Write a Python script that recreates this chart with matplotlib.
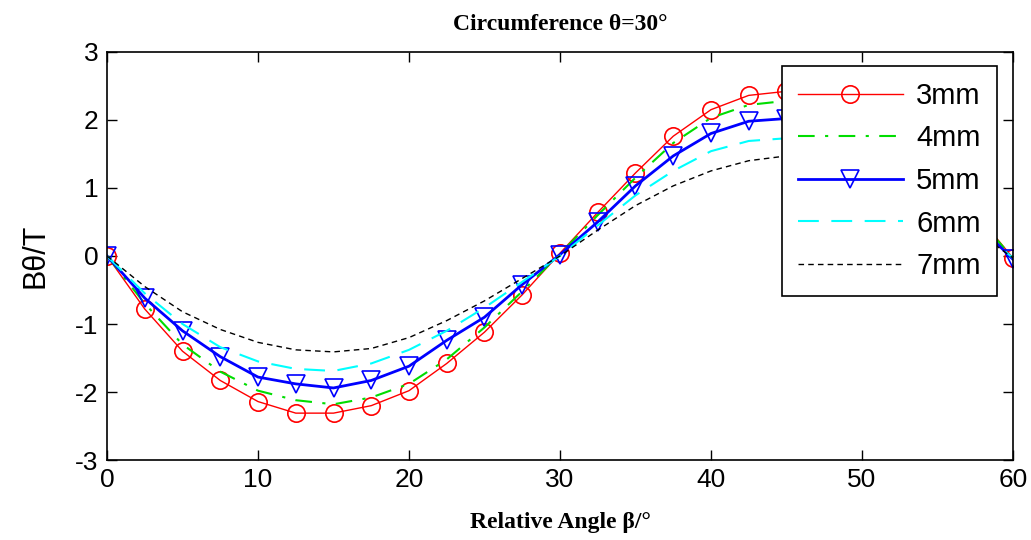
import matplotlib
matplotlib.use("Agg")
import matplotlib.pyplot as plt

# 相对角度 (每 2.5° 一个采样点)
angle = [0, 2.5, 5, 7.5, 10, 12.5, 15, 17.5, 20, 22.5, 25, 27.5, 30,
         32.5, 35, 37.5, 40, 42.5, 45, 47.5, 50, 52.5, 55, 57.5, 60]

b_3mm = [0, -0.78, -1.40, -1.83, -2.14, -2.31, -2.31, -2.20, -1.98, -1.58, -1.12, -0.57, 0.04,
         0.64, 1.22, 1.76, 2.15, 2.36, 2.42, 2.36, 2.15, 1.76, 1.22, 0.64, -0.03]
b_4mm = [0, -0.70, -1.30, -1.70, -1.98, -2.12, -2.18, -2.08, -1.88, -1.52, -1.05, -0.52, 0.03,
         0.60, 1.15, 1.66, 2.03, 2.22, 2.28, 2.22, 2.03, 1.66, 1.15, 0.60, -0.03]
b_5mm = [0, -0.62, -1.10, -1.48, -1.78, -1.88, -1.94, -1.83, -1.62, -1.24, -0.90, -0.42, 0.02,
         0.50, 1.03, 1.47, 1.80, 1.98, 2.02, 1.98, 1.80, 1.47, 1.03, 0.50, -0.05]
b_6mm = [0, -0.55, -1.00, -1.34, -1.55, -1.66, -1.69, -1.58, -1.38, -1.10, -0.76, -0.38, 0.0,
         0.45, 0.89, 1.25, 1.54, 1.69, 1.73, 1.69, 1.54, 1.25, 0.89, 0.45, -0.03]
b_7mm = [0, -0.45, -0.82, -1.08, -1.27, -1.38, -1.41, -1.36, -1.20, -0.95, -0.66, -0.33, 0.0,
         0.38, 0.74, 1.03, 1.25, 1.40, 1.47, 1.40, 1.25, 1.03, 0.74, 0.38, -0.03]

labels = ["3mm", "4mm", "5mm", "6mm", "7mm"]

plt.rcParams['font.family'] = ['Liberation Sans', 'DejaVu Sans']
plt.rcParams['axes.unicode_minus'] = False

fig = plt.figure(figsize=(10.31, 5.40), dpi=100)
ax = fig.add_axes([0.1038, 0.148, 0.8787, 0.756])

ax.plot(angle, b_3mm, color='red', lw=1.0, marker='o', markersize=12.5,
        markerfacecolor='none', markeredgecolor='red', markeredgewidth=1.2, label=labels[0])
ax.plot(angle, b_4mm, color='#00dd00', lw=1.5, linestyle=(0, (8, 5, 1.5, 5)), label=labels[1])
ax.plot(angle, b_5mm, color='blue', lw=2.0, marker='v', markersize=12.5,
        markerfacecolor='none', markeredgecolor='blue', markeredgewidth=1.2, label=labels[2])
ax.plot(angle, b_6mm, color='cyan', lw=1.5, linestyle=(0, (10, 6)), label=labels[3])
ax.plot(angle, b_7mm, color='black', lw=1.0, linestyle=(0, (4, 3)), label=labels[4])

ax.set_xlim(0, 60)
ax.set_ylim(-3, 3)
ax.set_xticks(range(0, 61, 10))
ax.set_yticks(range(-3, 4))
ax.tick_params(direction='in', length=7, width=1, top=True, right=True, labelsize=19, pad=6)
for s in ax.spines.values():
    s.set_linewidth(1.2)

serif = ['Liberation Serif', 'DejaVu Serif']
ax.set_title("Circumference θ=30°", family=serif, fontweight='bold', fontsize=17, pad=16)
ax.set_xlabel("Relative Angle β/°", family=serif, fontweight='bold', fontsize=17, labelpad=14)
ax.set_ylabel("Bθ/T", fontsize=22, labelpad=18)

leg = ax.legend(loc='upper right', bbox_to_anchor=(0.982, 0.966), borderaxespad=0,
                fontsize=21, handlelength=3.6, handletextpad=0.45, labelspacing=0.5,
                fancybox=False, framealpha=1, edgecolor='black', borderpad=0.55)
leg.get_frame().set_linewidth(1.2)

plt.savefig("out.png", dpi=100, facecolor='white')
plt.close()
